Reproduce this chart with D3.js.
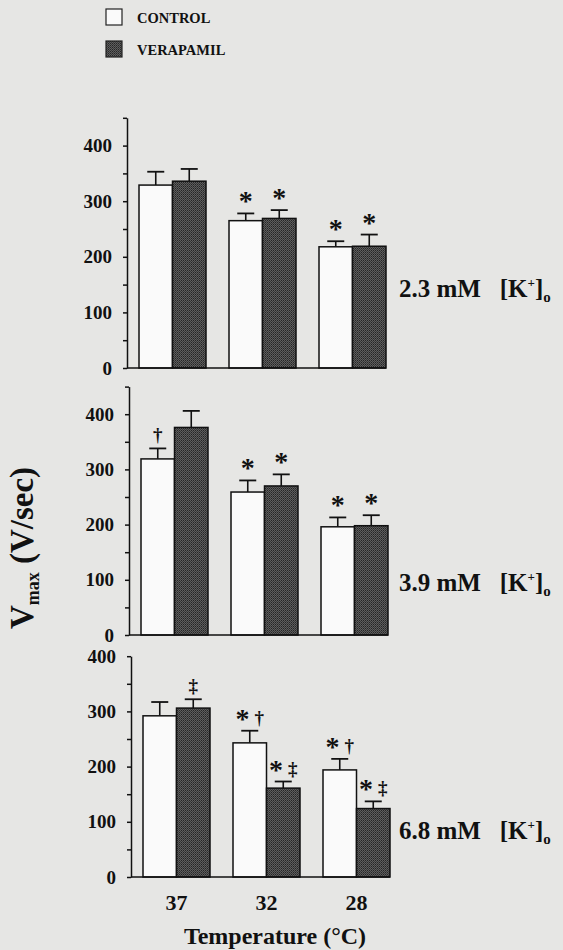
<!DOCTYPE html>
<html>
<head>
<meta charset="utf-8">
<script src="https://cdn.jsdelivr.net/npm/d3@7"></script>
<style>
  body { margin: 0; background: #e6e6e4; }
  svg { display: block; }
  text { font-family: "Liberation Serif", "Times New Roman", serif; font-weight: bold; fill: #111; }
  .axis path, .axis line { stroke: #111; stroke-width: 1.5; }
</style>
</head>
<body>
<div id="chart"></div>
<script>
// categories
const temps = ["37", "32", "28"];
const series = ["CONTROL", "VERAPAMIL"];
const potassium = ["2.3", "3.9", "6.8"];

// Vmax means (V/sec), one array per panel and series
const control23 = [329, 265, 218];
const verapamil23 = [336, 269, 219];
const control39 = [319, 259, 196];
const verapamil39 = [376, 270, 198];
const control68 = [292, 243, 194];
const verapamil68 = [306, 161, 124];

// error bars (upper half only)
const control23Err = [24, 13, 10];
const verapamil23Err = [22, 15, 21];
const control39Err = [19, 21, 17];
const verapamil39Err = [30, 21, 19];
const control68Err = [25, 22, 20];
const verapamil68Err = [16, 12, 13];

// significance marks above the bars
const control23Sig = ["", "*", "*"];
const verapamil23Sig = ["", "*", "*"];
const control39Sig = ["\u2020", "*", "*"];
const verapamil39Sig = ["", "*", "*"];
const control68Sig = ["", "*\u2009\u2020", "*\u2009\u2020"];
const verapamil68Sig = ["\u2021", "*\u2009\u2021", "*\u2009\u2021"];

// axis ticks
const yTicks = [0, 50, 100, 150, 200, 250, 300, 350, 400, 450];
const yTickLabels = [0, 100, 200, 300, 400];

const panels = [
    { k: potassium[0], control: control23, verapamil: verapamil23, cErr: control23Err, vErr: verapamil23Err, cSig: control23Sig, vSig: verapamil23Sig, yMax: 450 },
    { k: potassium[1], control: control39, verapamil: verapamil39, cErr: control39Err, vErr: verapamil39Err, cSig: control39Sig, vSig: verapamil39Sig, yMax: 450 },
    { k: potassium[2], control: control68, verapamil: verapamil68, cErr: control68Err, vErr: verapamil68Err, cSig: control68Sig, vSig: verapamil68Sig, yMax: 400 }
];

// where each panel sits on the page (scan is slightly skewed)
const layout = [
    { axisX: 127, base: 368, pxPer100: 55.6, labelY: 297 },
    { axisX: 129, base: 635, pxPer100: 55.2, labelY: 591 },
    { axisX: 131, base: 877, pxPer100: 55.2, labelY: 839 }
];

const W = 563, H = 950;
const svg = d3.select("#chart").append("svg")
    .attr("width", W)
    .attr("height", H);

// halftone fill for verapamil bars
const defs = svg.append("defs");
const pat = defs.append("pattern")
    .attr("id", "dots")
    .attr("width", 2)
    .attr("height", 2)
    .attr("patternUnits", "userSpaceOnUse");
pat.append("rect").attr("width", 2).attr("height", 2).attr("fill", "#5e5e5e");
pat.append("rect").attr("width", 1).attr("height", 1).attr("fill", "#262626");
pat.append("rect").attr("x", 1).attr("y", 1).attr("width", 1).attr("height", 1).attr("fill", "#3a3a3a");

// legend
const legend = svg.append("g").attr("transform", "translate(106, 9)");
const legItem = legend.selectAll("g")
    .data(series)
    .join("g")
    .attr("transform", (d, i) => `translate(0, ${i * 32})`);
legItem.append("rect")
    .attr("width", 16)
    .attr("height", 16)
    .attr("fill", d => d === "CONTROL" ? "#fafafa" : "url(#dots)")
    .attr("stroke", "#222")
    .attr("stroke-width", 1.2);
legItem.append("text")
    .attr("x", 31)
    .attr("y", 13.5)
    .attr("font-size", 14.5)
    .text(d => d);

panels.forEach((p, pi) => {
    const L = layout[pi];
    const g = svg.append("g");

    const y = d3.scaleLinear()
        .domain([0, p.yMax])
        .range([L.base, L.base - L.pxPer100 * p.yMax / 100]);

    const x0 = d3.scaleBand()
        .domain(temps)
        .range([L.axisX, L.axisX + 259])
        .paddingInner(0.2556)
        .paddingOuter(0.0667)
        .align(1);

    const x1 = d3.scaleBand()
        .domain(series)
        .range([0, x0.bandwidth()]);

    const rows = temps.map((t, i) => ({
        t,
        bars: [
            { s: "CONTROL", v: p.control[i], e: p.cErr[i], sig: p.cSig[i] },
            { s: "VERAPAMIL", v: p.verapamil[i], e: p.vErr[i], sig: p.vSig[i] }
        ]
    }));

    const grp = g.selectAll("g.grp")
        .data(rows)
        .join("g")
        .attr("class", "grp")
        .attr("transform", d => `translate(${x0(d.t)},0)`);

    const bar = grp.selectAll("g.bar")
        .data(d => d.bars)
        .join("g")
        .attr("class", "bar");

    // error bar (drawn first so the bar top covers its foot)
    bar.append("line")
        .attr("x1", d => x1(d.s) + x1.bandwidth() / 2)
        .attr("x2", d => x1(d.s) + x1.bandwidth() / 2)
        .attr("y1", d => y(d.v))
        .attr("y2", d => y(d.v + d.e))
        .attr("stroke", "#111")
        .attr("stroke-width", 1.6);
    bar.append("line")
        .attr("x1", d => x1(d.s) + x1.bandwidth() / 2 - 8.5)
        .attr("x2", d => x1(d.s) + x1.bandwidth() / 2 + 8.5)
        .attr("y1", d => y(d.v + d.e))
        .attr("y2", d => y(d.v + d.e))
        .attr("stroke", "#111")
        .attr("stroke-width", 1.8);

    bar.append("rect")
        .attr("x", d => x1(d.s))
        .attr("y", d => y(d.v))
        .attr("width", x1.bandwidth())
        .attr("height", d => y(0) - y(d.v))
        .attr("fill", d => d.s === "CONTROL" ? "#fafafa" : "url(#dots)")
        .attr("stroke", "#111")
        .attr("stroke-width", 1.5);

    // significance symbols
    const sig = bar.filter(d => d.sig !== "")
        .append("text")
        .attr("x", d => x1(d.s) + x1.bandwidth() / 2)
        .attr("y", d => y(d.v + d.e) - 3)
        .attr("text-anchor", "middle")
        .attr("font-size", 24);
    sig.each(function(d) {
        const t = d3.select(this);
        [...d.sig].forEach(ch => {
            if (ch === "*") {
                t.append("tspan").attr("font-size", 28).text("*");
            } else if (ch === "\u2009") {
                t.append("tspan").text("\u2009");
            } else {
                t.append("tspan").attr("font-size", 19).attr("dy", -4).text(ch);
            }
        });
    });

    // y axis
    g.append("g")
        .attr("class", "axis")
        .attr("transform", `translate(${L.axisX},0)`)
        .call(d3.axisLeft(y)
            .tickValues(yTicks.filter(v => v <= p.yMax))
            .tickSize(4)
            .tickSizeOuter(0)
            .tickPadding(11)
            .tickFormat(v => yTickLabels.includes(v) ? v : ""))
        .call(a => a.selectAll("text")
            .attr("font-size", 19)
            .attr("font-family", "Liberation Serif, serif")
            .attr("font-weight", "bold")
            .attr("fill", "#111"));

    // x axis line, labels only on the bottom panel
    const xa = g.append("g")
        .attr("class", "axis")
        .attr("transform", `translate(0,${L.base})`)
        .call(d3.axisBottom(x0)
            .tickSize(0)
            .tickSizeOuter(0)
            .tickPadding(17)
            .tickFormat(pi === panels.length - 1 ? (d => d) : (() => "")));
    xa.selectAll("text")
        .attr("font-size", 22)
        .attr("font-family", "Liberation Serif, serif")
        .attr("font-weight", "bold")
        .attr("fill", "#111");
    xa.select("path").attr("d", `M${L.axisX},0H${x0(temps[2]) + x0.bandwidth()}`);

    // potassium label
    const lab = g.append("text")
        .attr("x", 399)
        .attr("y", L.labelY)
        .attr("font-size", 25);
    lab.append("tspan").text(p.k + " mM\u2002 [K");
    lab.append("tspan").attr("font-size", 13).attr("dy", -10).text("+");
    lab.append("tspan").attr("dy", 10).text("]");
    lab.append("tspan").attr("font-size", 15).attr("dy", 5).text("o");
});

// y title
const yt = svg.append("text")
    .attr("transform", "translate(33, 548) rotate(-90)")
    .attr("text-anchor", "middle")
    .attr("font-size", 33);
yt.append("tspan").text("V");
yt.append("tspan").attr("font-size", 18).attr("dy", 6).text("max");
yt.append("tspan").attr("dy", -6).text(" (V/sec)");

// x title
svg.append("text")
    .attr("x", 275)
    .attr("y", 944)
    .attr("text-anchor", "middle")
    .attr("font-size", 24)
    .text("Temperature (\u00B0C)");
</script>
</body>
</html>
